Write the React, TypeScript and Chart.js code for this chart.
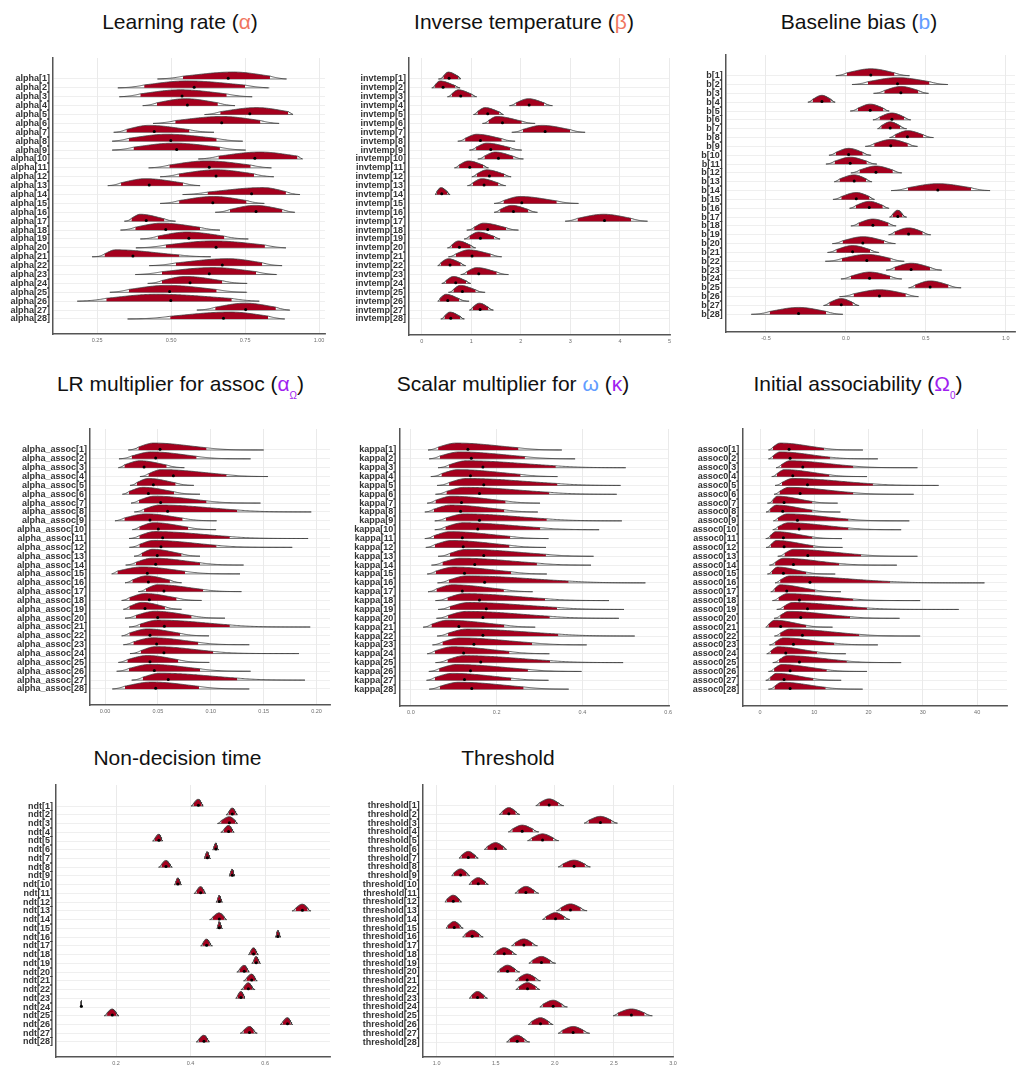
import React, { useEffect, useRef } from "react";
import { Chart, registerables } from "chart.js";

Chart.register(...registerables);

const FONT = '"Liberation Sans", Arial, Helvetica, sans-serif';
Chart.defaults.font.family = FONT;

// Posterior summary per subject: [lowest draw, interval low, median, interval high, highest draw]
type Summary = [number, number, number, number, number];

const names = (prefix: string) => Array.from({ length: 28 }, (_, i) => `${prefix}[${i + 1}]`);

const alphaLabels = names("alpha");
const alphaDraws: Summary[] = [
  [0.454, 0.54, 0.693, 0.834, 0.89],
  [0.32, 0.409, 0.578, 0.75, 0.832],
  [0.325, 0.396, 0.537, 0.688, 0.774],
  [0.404, 0.452, 0.555, 0.658, 0.716],
  [0.613, 0.666, 0.766, 0.896, 0.912],
  [0.439, 0.514, 0.671, 0.802, 0.865],
  [0.306, 0.349, 0.443, 0.562, 0.645],
  [0.301, 0.357, 0.499, 0.654, 0.742],
  [0.301, 0.373, 0.519, 0.665, 0.752],
  [0.592, 0.66, 0.783, 0.927, 0.944],
  [0.424, 0.494, 0.629, 0.769, 0.839],
  [0.463, 0.527, 0.652, 0.78, 0.847],
  [0.286, 0.331, 0.426, 0.54, 0.598],
  [0.539, 0.623, 0.772, 0.888, 0.935],
  [0.463, 0.527, 0.641, 0.755, 0.815],
  [0.649, 0.699, 0.787, 0.876, 0.918],
  [0.342, 0.366, 0.416, 0.477, 0.515],
  [0.329, 0.379, 0.482, 0.598, 0.665],
  [0.396, 0.455, 0.56, 0.68, 0.761],
  [0.381, 0.482, 0.652, 0.817, 0.888],
  [0.233, 0.275, 0.371, 0.528, 0.634],
  [0.426, 0.516, 0.673, 0.808, 0.875],
  [0.379, 0.469, 0.629, 0.787, 0.858],
  [0.421, 0.469, 0.564, 0.673, 0.757],
  [0.293, 0.357, 0.495, 0.654, 0.757],
  [0.183, 0.281, 0.499, 0.705, 0.798],
  [0.587, 0.649, 0.752, 0.854, 0.901],
  [0.353, 0.497, 0.677, 0.828, 0.884],
];
const alphaModes = [
  0.71, 0.553, 0.531, 0.548, 0.789, 0.671, 0.424, 0.486, 0.508, 0.8, 0.62, 0.654, 0.413, 0.811,
  0.643, 0.783, 0.396, 0.469, 0.553, 0.643, 0.312, 0.693, 0.643, 0.548, 0.486, 0.452, 0.75, 0.699,
];
const alphaTicks = [0.25, 0.5, 0.75, 1.0];
const alphaTickLabels = ["0.25", "0.50", "0.75", "1.00"];

const invtempLabels = names("invtemp");
const invtempDraws: Summary[] = [
  [0.336, 0.437, 0.552, 0.74, 0.787],
  [0.202, 0.269, 0.431, 0.673, 0.774],
  [0.518, 0.606, 0.787, 1.009, 1.11],
  [1.77, 1.904, 2.167, 2.47, 2.638],
  [1.043, 1.124, 1.332, 1.568, 1.649],
  [1.225, 1.346, 1.629, 2.019, 2.288],
  [1.817, 2.039, 2.49, 2.995, 3.297],
  [0.727, 0.875, 1.184, 1.615, 1.884],
  [0.962, 1.097, 1.393, 1.783, 2.019],
  [1.131, 1.265, 1.548, 1.851, 2.052],
  [0.659, 0.754, 0.969, 1.245, 1.346],
  [1.009, 1.11, 1.366, 1.662, 1.804],
  [0.922, 1.03, 1.258, 1.548, 1.696],
  [0.269, 0.303, 0.404, 0.518, 0.572],
  [1.46, 1.649, 2.019, 2.725, 3.163],
  [1.46, 1.581, 1.851, 2.153, 2.335],
  [2.894, 3.143, 3.688, 4.226, 4.556],
  [0.908, 1.057, 1.332, 1.703, 1.952],
  [0.855, 0.962, 1.184, 1.46, 1.581],
  [0.518, 0.606, 0.76, 0.989, 1.09],
  [0.538, 0.686, 1.016, 1.393, 1.615],
  [0.323, 0.384, 0.572, 0.787, 0.888],
  [0.787, 0.908, 1.151, 1.514, 1.75],
  [0.404, 0.491, 0.686, 0.895, 0.989],
  [0.538, 0.639, 0.821, 1.09, 1.279],
  [0.323, 0.37, 0.525, 0.754, 0.956],
  [0.962, 1.03, 1.178, 1.346, 1.447],
  [0.384, 0.458, 0.585, 0.774, 0.861],
];
const invtempModes = [
  0.538, 0.37, 0.74, 2.153, 1.279, 1.514, 2.423, 1.11, 1.312, 1.48, 0.942, 1.312, 1.211, 0.39,
  1.985, 1.817, 3.668, 1.245, 1.144, 0.74, 0.942, 0.538, 1.11, 0.639, 0.774, 0.491, 1.164, 0.572,
];
const invtempTicks = [0, 1, 2, 3, 4, 5];
const invtempTickLabels = ["0", "1", "2", "3", "4", "5"];

const bLabels = names("b");
const bDraws: Summary[] = [
  [-0.063, 0.006, 0.156, 0.304, 0.398],
  [0.038, 0.138, 0.323, 0.523, 0.638],
  [0.173, 0.24, 0.344, 0.454, 0.517],
  [-0.238, -0.208, -0.15, -0.094, -0.067],
  [0.027, 0.075, 0.152, 0.235, 0.271],
  [0.169, 0.21, 0.288, 0.365, 0.406],
  [0.198, 0.221, 0.277, 0.34, 0.381],
  [0.273, 0.308, 0.385, 0.485, 0.548],
  [0.121, 0.177, 0.281, 0.388, 0.448],
  [-0.106, -0.063, 0.017, 0.106, 0.158],
  [-0.125, -0.071, 0.027, 0.131, 0.194],
  [0.031, 0.085, 0.188, 0.294, 0.35],
  [-0.073, -0.04, 0.052, 0.127, 0.163],
  [0.283, 0.388, 0.575, 0.783, 0.902],
  [-0.081, -0.029, 0.065, 0.148, 0.179],
  [0.023, 0.063, 0.146, 0.231, 0.271],
  [0.273, 0.292, 0.325, 0.354, 0.381],
  [0.031, 0.079, 0.169, 0.267, 0.315],
  [0.267, 0.304, 0.392, 0.481, 0.531],
  [-0.085, -0.021, 0.106, 0.24, 0.31],
  [-0.115, -0.06, 0.042, 0.152, 0.208],
  [-0.129, -0.025, 0.131, 0.281, 0.365],
  [0.252, 0.304, 0.408, 0.527, 0.6],
  [-0.031, 0.031, 0.148, 0.277, 0.35],
  [0.392, 0.433, 0.527, 0.642, 0.721],
  [-0.04, 0.048, 0.21, 0.375, 0.454],
  [-0.14, -0.104, -0.029, 0.044, 0.083],
  [-0.592, -0.477, -0.296, -0.123, -0.019],
];
const bTicks = [-0.5, 0, 0.5, 1.0];
const bTickLabels = ["-0.5", "0.0", "0.5", "1.0"];

const alphaAssocLabels = names("alpha_assoc");
const alphaAssocDraws: Summary[] = [
  [0.022, 0.0315, 0.052, 0.096, 0.15],
  [0.0132, 0.0252, 0.0479, 0.0866, 0.1376],
  [0.0126, 0.0183, 0.0369, 0.0583, 0.075],
  [0.033, 0.041, 0.0646, 0.115, 0.154],
  [0.0236, 0.03, 0.0457, 0.0668, 0.084],
  [0.0164, 0.0227, 0.041, 0.0652, 0.0898],
  [0.0246, 0.0321, 0.0526, 0.096, 0.147],
  [0.0277, 0.0369, 0.0592, 0.125, 0.195],
  [0.0094, 0.0183, 0.0425, 0.0734, 0.1055],
  [0.0258, 0.0324, 0.0504, 0.0787, 0.105],
  [0.0227, 0.0324, 0.0545, 0.118, 0.192],
  [0.023, 0.0324, 0.0529, 0.1055, 0.177],
  [0.0274, 0.0346, 0.0494, 0.0724, 0.0898],
  [0.0195, 0.0293, 0.0479, 0.0898, 0.131],
  [0.0063, 0.0117, 0.04, 0.0756, 0.1276],
  [0.0189, 0.0258, 0.041, 0.0614, 0.0724],
  [0.0315, 0.0387, 0.0557, 0.0929, 0.129],
  [0.0157, 0.023, 0.0419, 0.0677, 0.0913],
  [0.0173, 0.023, 0.0378, 0.0567, 0.0724],
  [0.0189, 0.0293, 0.0498, 0.0819, 0.1134],
  [0.0227, 0.0331, 0.0561, 0.118, 0.194],
  [0.0157, 0.023, 0.0425, 0.0709, 0.0983],
  [0.0173, 0.0268, 0.0488, 0.0882, 0.1364],
  [0.0236, 0.0337, 0.0557, 0.1024, 0.1833],
  [0.0126, 0.0211, 0.0425, 0.0693, 0.0986],
  [0.011, 0.0227, 0.0466, 0.0898, 0.1376],
  [0.0252, 0.0356, 0.0598, 0.125, 0.189],
  [0.0069, 0.0189, 0.0479, 0.0888, 0.1364],
];
const alphaAssocModes = [
  0.046, 0.044, 0.033, 0.0535, 0.041, 0.036, 0.047, 0.052, 0.039, 0.046, 0.047, 0.046, 0.045, 0.045,
  0.035, 0.039, 0.05, 0.038, 0.035, 0.047, 0.05, 0.04, 0.045, 0.048, 0.04, 0.043, 0.052, 0.044,
];
const alphaAssocTicks = [0, 0.05, 0.1, 0.15, 0.2];
const alphaAssocTickLabels = ["0.00", "0.05", "0.10", "0.15", "0.20"];

const kappaLabels = names("kappa");
const kappaDraws: Summary[] = [
  [0.04, 0.0635, 0.133, 0.251, 0.352],
  [0.0426, 0.0674, 0.141, 0.266, 0.383],
  [0.0635, 0.089, 0.168, 0.338, 0.501],
  [0.0465, 0.0712, 0.139, 0.256, 0.342],
  [0.0612, 0.089, 0.17, 0.342, 0.489],
  [0.0573, 0.0828, 0.16, 0.323, 0.48],
  [0.038, 0.0573, 0.118, 0.221, 0.301],
  [0.0325, 0.0534, 0.116, 0.218, 0.296],
  [0.0557, 0.0813, 0.16, 0.317, 0.492],
  [0.0557, 0.0805, 0.156, 0.302, 0.439],
  [0.0325, 0.0534, 0.12, 0.232, 0.321],
  [0.0348, 0.0557, 0.122, 0.23, 0.315],
  [0.0635, 0.0906, 0.17, 0.315, 0.426],
  [0.048, 0.0735, 0.149, 0.294, 0.42],
  [0.038, 0.058, 0.125, 0.234, 0.317],
  [0.062, 0.0883, 0.172, 0.368, 0.547],
  [0.04, 0.0596, 0.12, 0.217, 0.284],
  [0.0573, 0.0852, 0.16, 0.313, 0.462],
  [0.0635, 0.0906, 0.176, 0.341, 0.497],
  [0.0596, 0.0867, 0.168, 0.324, 0.485],
  [0.0286, 0.048, 0.112, 0.218, 0.29],
  [0.0612, 0.0867, 0.168, 0.344, 0.522],
  [0.0503, 0.0735, 0.147, 0.283, 0.41],
  [0.038, 0.0557, 0.123, 0.23, 0.323],
  [0.0573, 0.0852, 0.163, 0.325, 0.495],
  [0.0418, 0.0658, 0.139, 0.273, 0.398],
  [0.0364, 0.0557, 0.125, 0.234, 0.321],
  [0.0426, 0.0674, 0.142, 0.263, 0.368],
];
const kappaModes = [
  0.106, 0.114, 0.129, 0.11, 0.13, 0.125, 0.095, 0.093, 0.125, 0.122, 0.092, 0.095, 0.13, 0.117,
  0.1, 0.13, 0.097, 0.125, 0.135, 0.13, 0.085, 0.13, 0.115, 0.097, 0.125, 0.107, 0.097, 0.112,
];
const kappaTicks = [0, 0.2, 0.4, 0.6];
const kappaTickLabels = ["0.0", "0.2", "0.4", "0.6"];

const assoc0Labels = names("assoc0");
const assoc0Draws: Summary[] = [
  [1.54, 2.34, 5.35, 11.8, 18.95],
  [1.54, 2.34, 5.54, 12.9, 21.7],
  [2.95, 3.88, 7.88, 17.2, 29.0],
  [2.15, 3.08, 6.03, 12.8, 19.7],
  [2.77, 4.0, 8.74, 20.8, 32.9],
  [2.58, 3.57, 7.38, 17.2, 28.3],
  [1.35, 2.28, 4.43, 9.66, 14.3],
  [1.1, 1.85, 4.18, 9.66, 14.8],
  [2.46, 3.26, 6.89, 16.3, 27.5],
  [2.34, 3.26, 7.2, 16.3, 26.0],
  [1.05, 1.85, 4.3, 9.66, 15.1],
  [1.1, 1.97, 4.43, 9.85, 15.2],
  [3.26, 4.49, 8.8, 18.65, 29.0],
  [1.72, 2.77, 6.15, 14.6, 25.2],
  [1.35, 2.15, 4.3, 8.5, 13.85],
  [2.77, 3.7, 9.2, 24.0, 41.35],
  [1.97, 2.65, 4.92, 10.15, 14.9],
  [2.28, 3.38, 7.26, 17.2, 29.5],
  [3.08, 4.31, 8.74, 19.7, 36.6],
  [2.58, 3.7, 7.5, 16.6, 25.7],
  [1.05, 1.54, 3.8, 8.5, 13.35],
  [2.65, 3.7, 7.8, 18.3, 29.5],
  [1.72, 2.77, 6.15, 13.7, 21.7],
  [1.23, 1.97, 4.74, 10.5, 15.8],
  [2.34, 3.5, 7.26, 16.0, 26.0],
  [1.54, 2.58, 5.54, 12.3, 19.7],
  [1.05, 1.85, 4.43, 9.85, 14.95],
  [1.54, 2.65, 5.54, 12.1, 18.9],
];
const assoc0Modes = [
  3.7, 3.7, 5.5, 4.5, 6, 5.3, 3.2, 3, 5, 5.2, 2.9, 3, 6.2, 4.3, 3.2, 5.5, 3.7, 5, 6, 5.3, 2.7, 5.5,
  4.3, 3.3, 5, 4, 3, 4,
];
const assoc0Ticks = [0, 10, 20, 30, 40];
const assoc0TickLabels = ["0", "10", "20", "30", "40"];

const ndtLabels = names("ndt");
const ndtDraws: Summary[] = [
  [0.401, 0.408, 0.421, 0.43, 0.434],
  [0.495, 0.502, 0.512, 0.521, 0.526],
  [0.472, 0.482, 0.504, 0.52, 0.526],
  [0.481, 0.489, 0.502, 0.512, 0.517],
  [0.298, 0.304, 0.315, 0.322, 0.325],
  [0.459, 0.462, 0.468, 0.472, 0.476],
  [0.436, 0.439, 0.445, 0.45, 0.454],
  [0.314, 0.322, 0.334, 0.345, 0.351],
  [0.503, 0.506, 0.512, 0.516, 0.519],
  [0.356, 0.36, 0.366, 0.372, 0.376],
  [0.409, 0.416, 0.427, 0.436, 0.441],
  [0.468, 0.472, 0.477, 0.482, 0.486],
  [0.672, 0.682, 0.7, 0.714, 0.723],
  [0.451, 0.46, 0.477, 0.49, 0.497],
  [0.47, 0.473, 0.477, 0.482, 0.486],
  [0.627, 0.63, 0.634, 0.639, 0.642],
  [0.427, 0.433, 0.443, 0.452, 0.459],
  [0.555, 0.56, 0.569, 0.577, 0.582],
  [0.564, 0.569, 0.576, 0.583, 0.588],
  [0.524, 0.531, 0.544, 0.553, 0.558],
  [0.542, 0.55, 0.564, 0.573, 0.579],
  [0.535, 0.543, 0.555, 0.565, 0.573],
  [0.521, 0.526, 0.535, 0.543, 0.546],
  [0.104, 0.105, 0.107, 0.108, 0.11],
  [0.168, 0.176, 0.19, 0.201, 0.208],
  [0.64, 0.647, 0.66, 0.669, 0.674],
  [0.533, 0.542, 0.558, 0.57, 0.579],
  [0.415, 0.422, 0.436, 0.446, 0.451],
];
const ndtTicks = [0.2, 0.4, 0.6];
const ndtTickLabels = ["0.2", "0.4", "0.6"];

const thresholdLabels = names("threshold");
const thresholdDraws: Summary[] = [
  [1.839, 1.87, 1.952, 2.03, 2.076],
  [1.53, 1.555, 1.611, 1.67, 1.704],
  [2.248, 2.285, 2.386, 2.48, 2.53],
  [1.606, 1.64, 1.724, 1.815, 1.865],
  [1.769, 1.805, 1.896, 1.985, 2.034],
  [1.403, 1.428, 1.499, 1.565, 1.592],
  [1.189, 1.21, 1.268, 1.325, 1.352],
  [2.028, 2.065, 2.163, 2.255, 2.301],
  [1.127, 1.146, 1.203, 1.255, 1.282],
  [1.273, 1.294, 1.352, 1.41, 1.437],
  [1.662, 1.69, 1.755, 1.825, 1.865],
  [1.07, 1.087, 1.141, 1.19, 1.211],
  [2.014, 2.05, 2.132, 2.22, 2.273],
  [1.896, 1.925, 2.006, 2.08, 2.127],
  [1.079, 1.096, 1.149, 1.197, 1.225],
  [1.22, 1.242, 1.301, 1.36, 1.394],
  [1.634, 1.662, 1.738, 1.81, 1.854],
  [1.479, 1.504, 1.572, 1.64, 1.676],
  [1.78, 1.808, 1.887, 1.96, 2.008],
  [1.513, 1.536, 1.6, 1.665, 1.704],
  [1.668, 1.694, 1.766, 1.838, 1.879],
  [1.67, 1.696, 1.769, 1.84, 1.873],
  [1.276, 1.296, 1.346, 1.4, 1.431],
  [1.873, 1.9, 1.986, 2.06, 2.107],
  [2.493, 2.535, 2.648, 2.76, 2.825],
  [1.775, 1.801, 1.879, 1.95, 1.986],
  [2.028, 2.062, 2.155, 2.245, 2.296],
  [1.592, 1.617, 1.682, 1.745, 1.789],
];
const thresholdTicks = [1.0, 1.5, 2.0, 2.5, 3.0];
const thresholdTickLabels = ["1.0", "1.5", "2.0", "2.5", "3.0"];

// ---- styling ----
const SLAB_RED = "#a5001e";
const OUTLINE = "#3c3c3c";
const SLAB_SCALE = 0.78; // slab peak height, in rows
const PAD_T = 4;
const PAD_R = 4;
const X_AXIS_H = 16;

const SALMON = "#F0775F";
const BLUE = "#619CFF";
const PURPLE = "#A020F0";

interface Panel {
  labels: string[];
  draws: Summary[];
  modes?: number[];
  xMin: number;
  xMax: number;
  ticks: number[];
  tickLabels: string[];
  colLeft: number;
  plot: { left: number; right: number; top: number; bottom: number };
  yMin: number;
  yMax: number;
}

const panels: Panel[] = [
  { labels: alphaLabels, draws: alphaDraws, modes: alphaModes, xMin: 0.101, xMax: 1.02, ticks: alphaTicks, tickLabels: alphaTickLabels,
    colLeft: 0, plot: { left: 53, right: 325, top: 58, bottom: 334 }, yMin: -1.36, yMax: 29.69 },
  { labels: invtempLabels, draws: invtempDraws, modes: invtempModes, xMin: -0.257, xMax: 5.01, ticks: invtempTicks, tickLabels: invtempTickLabels,
    colLeft: 340, plot: { left: 409, right: 670, top: 58, bottom: 335 }, yMin: -1.36, yMax: 29.8 },
  { labels: bLabels, draws: bDraws, xMin: -0.752, xMax: 1.058, ticks: bTicks, tickLabels: bTickLabels,
    colLeft: 680, plot: { left: 725.7, right: 1015, top: 55, bottom: 332 }, yMin: -1.34, yMax: 30.0 },
  { labels: alphaAssocLabels, draws: alphaAssocDraws, modes: alphaAssocModes, xMin: -0.0142, xMax: 0.2127, ticks: alphaAssocTicks, tickLabels: alphaAssocTickLabels,
    colLeft: 0, plot: { left: 90, right: 330, top: 429, bottom: 705 }, yMin: -1.37, yMax: 29.81 },
  { labels: kappaLabels, draws: kappaDraws, modes: kappaModes, xMin: -0.027, xMax: 0.602, ticks: kappaTicks, tickLabels: kappaTickLabels,
    colLeft: 340, plot: { left: 399.3, right: 669.3, top: 429, bottom: 706 }, yMin: -1.37, yMax: 29.9 },
  { labels: assoc0Labels, draws: assoc0Draws, modes: assoc0Modes, xMin: -3.27, xMax: 45.5, ticks: assoc0Ticks, tickLabels: assoc0TickLabels,
    colLeft: 680, plot: { left: 742.3, right: 1006.7, top: 429, bottom: 706 }, yMin: -1.37, yMax: 29.9 },
  { labels: ndtLabels, draws: ndtDraws, xMin: 0.039, xMax: 0.774, ticks: ndtTicks, tickLabels: ndtTickLabels,
    colLeft: 0, plot: { left: 56, right: 330, top: 785, bottom: 1056.7 }, yMin: -1.41, yMax: 29.72 },
  { labels: thresholdLabels, draws: thresholdDraws, xMin: 0.882, xMax: 3.0, ticks: thresholdTicks, tickLabels: thresholdTickLabels,
    colLeft: 340, plot: { left: 422.7, right: 673.3, top: 785, bottom: 1057.3 }, yMin: -1.36, yMax: 29.71 },
];

// Relative slab height at x: a split bell around the mode that meets the
// interval bounds at a set fraction of the peak and tapers to zero at the
// extreme draws.
function slabHeight(x: number, s: Summary, mode: number): number {
  const [lo, ql, , qh, hi] = s;
  const left = Math.max(mode - ql, 1e-9);
  const right = Math.max(qh - mode, 1e-9);
  const cL = 0.42 / (1 + 0.12 * Math.max(0, left / right - 1));
  const cR = 0.42 / (1 + 0.12 * Math.max(0, right / left - 1));
  let h: number;
  if (x <= mode) {
    const u = (mode - x) / left;
    h = Math.pow(cL, u * u);
  } else {
    const u = (x - mode) / right;
    h = Math.pow(cR, u * u);
  }
  if (x < ql) h *= (x - lo) / Math.max(ql - lo, 1e-9);
  if (x > qh) h *= (hi - x) / Math.max(hi - qh, 1e-9);
  return Math.max(h, 0);
}

function slabXs(s: Summary, mode: number): number[] {
  const [lo, ql, , qh, hi] = s;
  const n = 140;
  const xs: number[] = [];
  for (let j = 0; j <= n; j++) xs.push(lo + ((hi - lo) * j) / n);
  xs.push(ql, qh, mode);
  return xs.filter((x) => x >= lo && x <= hi).sort((a, b) => a - b);
}

function buildConfig(p: Panel): any {
  const datasets: any[] = [];
  const total = p.draws.length * 4 + 2;
  let k = 0;
  const dots: { x: number; y: number }[] = [];
  const clear = "rgba(0,0,0,0)";

  p.draws.forEach((s, i) => {
    const row = i + 1;
    let mode = p.modes ? p.modes[i] : s[2];
    mode = Math.min(Math.max(mode, s[1] + (s[3] - s[1]) * 0.02), s[3] - (s[3] - s[1]) * 0.02);
    const curve = slabXs(s, mode).map((x) => ({ x, y: row - SLAB_SCALE * slabHeight(x, s, mode) }));
    const inner = curve.filter((pt) => pt.x >= s[1] - 1e-12 && pt.x <= s[3] + 1e-12);

    // full slab (white)
    datasets.push({ data: curve, fill: { value: row }, backgroundColor: "#ffffff", borderColor: clear, borderWidth: 1, pointRadius: 0, order: total - k++ });
    // slab baseline
    datasets.push({ data: [{ x: s[0], y: row }, { x: s[4], y: row }], fill: false, borderColor: OUTLINE, borderWidth: 0.7, pointRadius: 0, order: total - k++ });
    // interval (red)
    datasets.push({ data: inner, fill: { value: row }, backgroundColor: SLAB_RED, borderColor: clear, borderWidth: 1, pointRadius: 0, order: total - k++ });
    // slab outline
    datasets.push({ data: curve, fill: false, borderColor: OUTLINE, borderWidth: 0.8, pointRadius: 0, order: total - k++ });

    dots.push({ x: s[2], y: row - 0.08 });
  });

  datasets.push({
    data: dots,
    showLine: false,
    pointRadius: 1.5,
    pointBackgroundColor: "#000000",
    pointBorderColor: "#000000",
    pointBorderWidth: 0,
    order: 0,
  });

  const yAxisW = p.plot.left - p.colLeft;

  return {
    type: "line",
    data: { datasets },
    options: {
      animation: false,
      responsive: false,
      events: [],
      parsing: true,
      elements: { line: { tension: 0 } },
      layout: { padding: { top: PAD_T, right: PAD_R, left: 0, bottom: 0 } },
      plugins: { legend: { display: false }, tooltip: { enabled: false }, title: { display: false } },
      scales: {
        x: {
          type: "linear",
          min: p.xMin,
          max: p.xMax,
          afterBuildTicks: (axis: any) => {
            axis.ticks = p.ticks.map((v) => ({ value: v }));
          },
          afterFit: (scale: any) => {
            scale.height = X_AXIS_H;
            scale.paddingLeft = 0;
            scale.paddingRight = 0;
          },
          ticks: {
            autoSkip: false,
            maxRotation: 0,
            padding: 3,
            color: "#6e6e6e",
            font: { size: 5.5 },
            callback: (_v: any, idx: number) => p.tickLabels[idx],
          },
          grid: { color: "#e4e4e4", lineWidth: 0.8, drawTicks: false },
          border: { display: true, color: "#555555", width: 1.5 },
        },
        y: {
          type: "linear",
          reverse: true,
          min: p.yMin,
          max: p.yMax,
          afterBuildTicks: (axis: any) => {
            axis.ticks = p.labels.map((_, i) => ({ value: i + 1 }));
          },
          afterFit: (scale: any) => {
            scale.width = yAxisW;
            scale.paddingTop = 0;
            scale.paddingBottom = 0;
            scale.paddingLeft = 0;
            scale.paddingRight = 0;
          },
          ticks: {
            autoSkip: false,
            padding: 3,
            color: "#333333",
            font: { size: 9, weight: "bold", lineHeight: 1 },
            callback: (v: any) => p.labels[Math.round(Number(v)) - 1],
          },
          grid: { color: "#ebebeb", lineWidth: 0.8, drawTicks: false },
          border: { display: true, color: "#555555", width: 1.5 },
        },
      },
    },
  };
}

function SlabPanel({ panel }: { panel: Panel }) {
  const ref = useRef<HTMLCanvasElement>(null);
  useEffect(() => {
    if (!ref.current) return;
    const chart = new Chart(ref.current, buildConfig(panel));
    return () => chart.destroy();
  }, [panel]);
  const w = Math.round(panel.plot.right - panel.colLeft + PAD_R);
  const h = Math.round(panel.plot.bottom - panel.plot.top + PAD_T + X_AXIS_H);
  return (
    <canvas
      ref={ref}
      width={w}
      height={h}
      style={{ position: "absolute", left: panel.colLeft, top: Math.round(panel.plot.top - PAD_T), width: w, height: h }}
    />
  );
}

function Title({ cx, baseline, children }: { cx: number; baseline: number; children: React.ReactNode }) {
  return (
    <div
      style={{
        position: "absolute",
        left: cx - 200,
        width: 400,
        top: baseline - 17.8,
        textAlign: "center",
        fontFamily: FONT,
        fontSize: 21,
        lineHeight: "21px",
        color: "#111111",
        whiteSpace: "nowrap",
      }}
    >
      {children}
    </div>
  );
}

const sub = (text: string, color: string) => (
  <span style={{ fontSize: 10, position: "relative", top: 8, color }}>{text}</span>
);

export default function App() {
  return (
    <div style={{ position: "absolute", left: 0, top: 0, width: 1018, height: 1070, overflow: "hidden", background: "#ffffff" }}>
      <Title cx={180} baseline={28.3}>
        Learning rate (<span style={{ color: SALMON }}>α</span>)
      </Title>
      <Title cx={524} baseline={28.3}>
        Inverse temperature (<span style={{ color: SALMON }}>β</span>)
      </Title>
      <Title cx={859} baseline={28.3}>
        Baseline bias (<span style={{ color: BLUE }}>b</span>)
      </Title>
      <Title cx={180.5} baseline={390.7}>
        LR multiplier for assoc (<span style={{ color: PURPLE }}>α</span>
        {sub("Ω", PURPLE)})
      </Title>
      <Title cx={513} baseline={390.7}>
        Scalar multiplier for <span style={{ color: BLUE }}>ω</span> (<span style={{ color: PURPLE }}>κ</span>)
      </Title>
      <Title cx={858} baseline={390.7}>
        Initial associability (<span style={{ color: PURPLE }}>Ω</span>
        {sub("0", PURPLE)})
      </Title>
      <Title cx={177.5} baseline={765}>
        Non-decision time
      </Title>
      <Title cx={508} baseline={765}>
        Threshold
      </Title>
      {panels.map((p, i) => (
        <SlabPanel key={i} panel={p} />
      ))}
    </div>
  );
}
